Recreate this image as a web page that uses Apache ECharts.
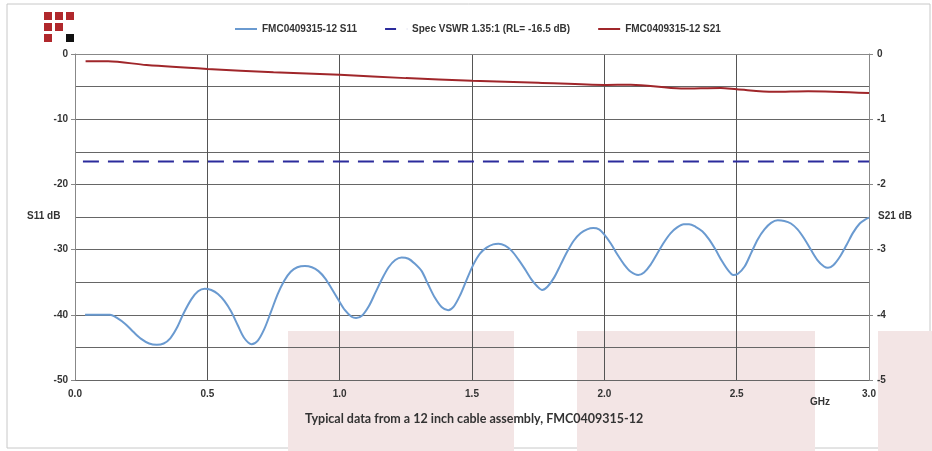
<!DOCTYPE html>
<html>
<head>
<meta charset="utf-8">
<script src="https://cdn.jsdelivr.net/npm/echarts@6/dist/echarts.min.js"></script>
<style>
  html, body { margin: 0; padding: 0; background: #fff; }
  #chart { width: 932px; height: 451px; }
</style>
</head>
<body>
<div id="chart"></div>
<script>
// frequency (GHz) / return loss (dB)
var freqS11 = [0.038, 0.08, 0.132, 0.16, 0.19, 0.22, 0.25, 0.28, 0.309, 0.335, 0.36, 0.385, 0.41, 0.44, 0.465, 0.49,
  0.515, 0.54, 0.565, 0.59, 0.615, 0.64, 0.667, 0.69, 0.715, 0.74, 0.765, 0.79, 0.815, 0.84, 0.869, 0.895,
  0.92, 0.945, 0.97, 0.995, 1.02, 1.045, 1.062, 1.085, 1.11, 1.135, 1.16, 1.185, 1.21, 1.234, 1.26, 1.285,
  1.31, 1.335, 1.36, 1.385, 1.41, 1.43, 1.455, 1.48, 1.505, 1.53, 1.555, 1.58, 1.60, 1.625, 1.65, 1.675,
  1.70, 1.725, 1.748, 1.765, 1.785, 1.81, 1.835, 1.86, 1.885, 1.91, 1.935, 1.958, 1.98, 2.0, 2.025, 2.05,
  2.075, 2.10, 2.128, 2.15, 2.175, 2.20, 2.225, 2.25, 2.275, 2.30, 2.32, 2.345, 2.37, 2.395, 2.42, 2.445,
  2.468, 2.487, 2.505, 2.53, 2.555, 2.58, 2.605, 2.63, 2.655, 2.68, 2.705, 2.73, 2.755, 2.78, 2.805, 2.83,
  2.845, 2.865, 2.89, 2.915, 2.94, 2.965, 2.985, 3.0];
var s11 = [-40.0, -40.0, -40.0, -40.5, -41.4, -42.6, -43.7, -44.4, -44.6, -44.4, -43.6, -42.0, -39.8, -37.6, -36.4, -36.0,
  -36.2, -36.8, -37.9, -39.5, -41.6, -43.6, -44.5, -44.0, -42.2, -39.6, -36.9, -34.8, -33.4, -32.7, -32.5, -32.7,
  -33.3, -34.4, -36.0, -37.7, -39.3, -40.3, -40.5, -40.1, -38.7, -36.6, -34.5, -32.7, -31.6, -31.2, -31.4, -32.2,
  -33.3, -35.4, -37.4, -38.8, -39.3, -38.8, -37.0, -34.6, -32.3, -30.6, -29.7, -29.2, -29.1, -29.4, -30.2, -31.5,
  -33.0, -34.6, -35.7, -36.2, -35.7, -34.3, -32.3, -30.3, -28.6, -27.5, -26.9, -26.7, -26.9, -27.7, -29.1, -30.8,
  -32.3, -33.4, -33.9, -33.5, -32.3, -30.6, -28.9, -27.5, -26.6, -26.1, -26.1, -26.5, -27.2, -28.4, -30.0, -31.8,
  -33.2, -33.9, -33.7, -32.6, -30.5, -28.4, -26.9, -25.9, -25.5, -25.6, -26.0, -26.9, -28.3, -30.0, -31.6, -32.6,
  -32.8, -32.4, -31.1, -29.3, -27.4, -26.0, -25.4, -25.1];

// insertion loss (dB), right axis
var freqS21 = [0.04, 0.125, 0.27, 0.5, 0.75, 1.0, 1.25, 1.5, 1.75, 2.0, 2.1, 2.29, 2.44, 2.5, 2.64, 2.77, 3.0];
var s21 = [-0.11, -0.11, -0.17, -0.23, -0.28, -0.32, -0.37, -0.41, -0.44, -0.475, -0.47, -0.53, -0.52, -0.54, -0.58, -0.57, -0.60];

// spec limit line
var specFreq = [0.03, 3.0];
var specLimit = -16.5;

var names = ['FMC0409315-12 S11', 'Spec VSWR 1.35:1 (RL= -16.5 dB)', 'FMC0409315-12 S21'];
var footer = 'Typical data from a 12 inch cable assembly, FMC0409315-12';

function pairs(xs, ys) {
  return xs.map(function (x, i) { return [x, ys[i]]; });
}

var txt = { fontFamily: 'Liberation Sans, Arial, sans-serif', fontSize: 10, fontWeight: 'bold', color: '#333' };
var labelFont = 'bold 10px Liberation Sans, Arial, sans-serif';
var logoRed = '#b0282c';
// legend swatches: plain line, and a single short dash for the spec line
var lineIcon = 'path://M0,0H22V2H0Z';
var dashIcon = 'path://M0,0H11V2H0Z M21.9,0H22V2H21.9Z';

var chart = echarts.init(document.getElementById('chart'));
chart.setOption({
  backgroundColor: '#fff',
  animation: false,
  grid: { left: 75, right: 63, top: 54, bottom: 71 },
  legend: {
    top: 19, left: 230,
    itemWidth: 22, itemHeight: 2, itemGap: 28,
    textStyle: txt,
    data: [
      { name: names[0], icon: lineIcon },
      { name: names[1], icon: dashIcon },
      { name: names[2], icon: lineIcon }
    ]
  },
  graphic: [
    // outer frame
    { type: 'rect', z: -20, shape: { x: 7, y: 4, width: 923, height: 444 }, style: { fill: '#fff', stroke: '#c8c8c8', lineWidth: 1 } },
    // faint pink blocks behind the bottom of the plot
    { type: 'rect', z: -10, shape: { x: 288, y: 331, width: 226, height: 120 }, style: { fill: '#f3e5e5' } },
    { type: 'rect', z: -10, shape: { x: 577, y: 331, width: 238, height: 120 }, style: { fill: '#f3e5e5' } },
    { type: 'rect', z: -10, shape: { x: 878, y: 331, width: 54, height: 120 }, style: { fill: '#f3e5e5' } },
    // logo
    { type: 'rect', shape: { x: 44, y: 12, width: 8, height: 8 }, style: { fill: logoRed } },
    { type: 'rect', shape: { x: 55, y: 12, width: 8, height: 8 }, style: { fill: logoRed } },
    { type: 'rect', shape: { x: 66, y: 12, width: 8, height: 8 }, style: { fill: logoRed } },
    { type: 'rect', shape: { x: 44, y: 23, width: 8, height: 8 }, style: { fill: logoRed } },
    { type: 'rect', shape: { x: 55, y: 23, width: 8, height: 8 }, style: { fill: logoRed } },
    { type: 'rect', shape: { x: 44, y: 34, width: 8, height: 8 }, style: { fill: logoRed } },
    { type: 'rect', shape: { x: 66, y: 34, width: 8, height: 8 }, style: { fill: '#111' } },
    // axis titles and footer
    { type: 'text', left: 27, top: 211, style: { text: 'S11 dB', font: labelFont, fill: '#333' } },
    { type: 'text', left: 878, top: 211, style: { text: 'S21 dB', font: labelFont, fill: '#333' } },
    { type: 'text', left: 810, top: 397, style: { text: 'GHz', font: labelFont, fill: '#333' } },
    { type: 'text', left: 305, top: 412, style: { text: footer, font: 'bold 12.5px Lato, sans-serif', fill: '#333' } }
  ],
  xAxis: {
    type: 'value', min: 0, max: 3, interval: 0.5,
    axisLine: { lineStyle: { color: '#888' } },
    axisTick: { show: false },
    axisLabel: Object.assign({ margin: 9, formatter: function (v) { return v.toFixed(1); } }, txt),
    splitLine: { show: true, lineStyle: { color: '#555', width: 1 } }
  },
  yAxis: [
    {
      type: 'value', min: -50, max: 0, interval: 10,
      axisLine: { show: true, lineStyle: { color: '#888' } },
      axisTick: { show: true, length: 4, lineStyle: { color: '#888' } },
      axisLabel: Object.assign({ margin: 7 }, txt),
      splitLine: { show: true, lineStyle: { color: '#666', width: 1 } },
      minorTick: { show: false, splitNumber: 2 },
      minorSplitLine: { show: true, lineStyle: { color: '#666', width: 1 } }
    },
    {
      type: 'value', min: -5, max: 0, interval: 1, position: 'right',
      axisLine: { show: true, lineStyle: { color: '#888' } },
      axisTick: { show: true, length: 4, lineStyle: { color: '#888' } },
      axisLabel: Object.assign({ margin: 8 }, txt),
      splitLine: { show: false }
    }
  ],
  series: [
    {
      name: names[0], type: 'line', yAxisIndex: 0, smooth: 0.3, symbol: 'none',
      data: pairs(freqS11, s11),
      lineStyle: { color: '#6a9ad0', width: 2 }, itemStyle: { color: '#6a9ad0' }, z: 4
    },
    {
      name: names[1], type: 'line', yAxisIndex: 0, symbol: 'none',
      data: specFreq.map(function (f) { return [f, specLimit]; }),
      lineStyle: { color: '#2b2b9c', width: 2, type: [16, 9] }, itemStyle: { color: '#2b2b9c' }, z: 3
    },
    {
      name: names[2], type: 'line', yAxisIndex: 1, smooth: 0.3, symbol: 'none',
      data: pairs(freqS21, s21),
      lineStyle: { color: '#a0262a', width: 2 }, itemStyle: { color: '#a0262a' }, z: 4
    }
  ]
});
</script>
</body>
</html>
